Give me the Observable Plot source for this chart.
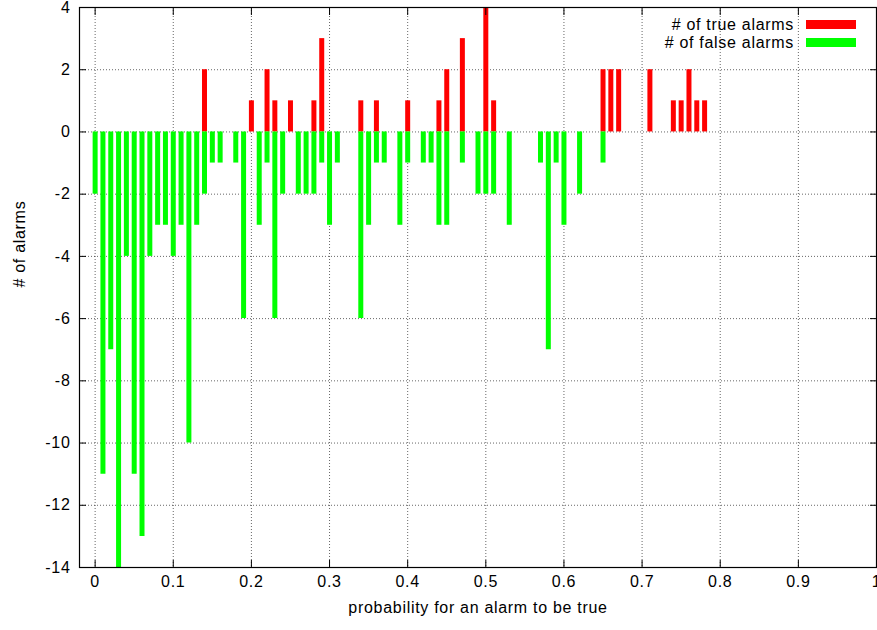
<!DOCTYPE html>
<html><head><meta charset="utf-8">
<script src="https://cdn.jsdelivr.net/npm/d3@7"></script>
<script src="https://cdn.jsdelivr.net/npm/@observablehq/plot@0.6"></script>
<style>
html,body{margin:0;padding:0;background:#fff;}
#chart{position:relative;width:877px;height:630px;overflow:hidden;}
#chart svg text{letter-spacing:0.7px;}
</style></head><body><div id="chart"></div>
<script>
const probabilities = [0.00,0.01,0.02,0.03,0.04,0.05,0.06,0.07,0.08,0.09,0.10,0.11,0.12,0.13,0.14,0.15,0.16,0.18,0.19,0.20,0.21,0.22,0.23,0.24,0.25,0.26,0.27,0.28,0.29,0.30,0.31,0.34,0.35,0.36,0.37,0.39,0.40,0.42,0.43,0.44,0.45,0.47,0.49,0.50,0.51,0.53,0.57,0.58,0.59,0.60,0.62,0.65,0.66,0.67,0.71,0.74,0.75,0.76,0.77,0.78];
const trueAlarms = [0,0,0,0,0,0,0,0,0,0,0,0,0,0,2,0,0,0,0,1,0,2,1,0,1,0,0,1,3,0,0,1,0,1,0,0,1,0,0,1,2,3,0,4,1,0,0,0,0,0,0,2,2,2,2,1,1,2,1,1];
const falseAlarms = [-2,-11,-7,-14,-4,-11,-13,-4,-3,-3,-4,-3,-10,-3,-2,-1,-1,-1,-6,0,-3,-1,-6,-2,0,-2,-2,-2,-1,-3,-1,-6,-3,-1,-1,-3,-1,-1,-1,-3,-3,-1,-2,-2,-2,-3,-1,-7,-1,-3,-2,-1,0,0,0,0,0,0,0,0];
const xTicks = [0,0.1,0.2,0.3,0.4,0.5,0.6,0.7,0.8,0.9,1.0];
const yTicks = [4,2,0,-2,-4,-6,-8,-10,-12,-14];
const seriesNames = ["# of true alarms", "# of false alarms"];
const seriesColors = ["#ff0000", "#00ff00"];
const xLabel = "probability for an alarm to be true";
const yLabel = "# of alarms";

const rows = probabilities.map((p, i) => ({p, t: trueAlarms[i], f: falseAlarms[i]}));
const font = "'Liberation Sans', Arial, Helvetica, sans-serif";
const fmtX = d => String(+d.toFixed(1));
const blank = () => "";
const gridStyle = {stroke: "#000", strokeOpacity: 0.6, strokeDasharray: "1,2"};

const plot = Plot.plot({
  width: 877, height: 630,
  marginLeft: 79, marginRight: 1, marginTop: 7, marginBottom: 63,
  style: {fontFamily: font, fontSize: "16px", background: "#fff", color: "#000", overflow: "visible"},
  x: {domain: [-0.02, 1.0]},
  y: {domain: [-14, 4]},
  marks: [
    Plot.gridX({ticks: xTicks.slice(0, -1), ...gridStyle}),
    Plot.gridY({ticks: yTicks.slice(1, -1), ...gridStyle}),
    Plot.ruleX(rows.filter(d => d.t > 0), {x: "p", y1: 0, y2: "t", stroke: seriesColors[0], strokeWidth: 5}),
    Plot.ruleX(rows.filter(d => d.f < 0), {x: "p", y1: 0, y2: "f", stroke: seriesColors[1], strokeWidth: 5}),
    Plot.frame({stroke: "#000", strokeWidth: 1.2}),
    Plot.axisX({anchor: "bottom", ticks: xTicks, tickSize: 7, dy: -7, tickFormat: blank, label: null}),
    Plot.axisX({anchor: "top", ticks: xTicks, tickSize: 7, dy: 7, tickFormat: blank, label: null}),
    Plot.axisY({anchor: "left", ticks: yTicks, tickSize: 7, dx: 7, tickFormat: blank, label: null}),
    Plot.axisY({anchor: "right", ticks: yTicks, tickSize: 7, dx: -7, tickFormat: blank, label: null}),
    Plot.axisX({anchor: "bottom", ticks: xTicks, tickSize: 0, tickPadding: 8, tickFormat: fmtX, label: null}),
    Plot.axisY({anchor: "left", ticks: yTicks, tickSize: 0, tickPadding: 9, tickFormat: d => String(d), label: null}),
    Plot.text([xLabel], {text: d => d, frameAnchor: "bottom", dy: 45}),
    Plot.text([yLabel], {text: d => d, frameAnchor: "left", dx: -60, rotate: -90})
  ]
});

const svg = d3.select(plot);
const legend = svg.append("g").attr("font-family", font).attr("font-size", 16);
seriesNames.forEach((name, i) => {
  const cy = 24.5 + i * 18;
  legend.append("text").attr("x", 794).attr("y", cy).attr("text-anchor", "end")
    .attr("dominant-baseline", "central").attr("fill", "#000").text(name);
  legend.append("rect").attr("x", 806).attr("y", cy - 4.5).attr("width", 50).attr("height", 9)
    .attr("fill", seriesColors[i]);
});
document.getElementById("chart").appendChild(plot);
</script></body></html>
